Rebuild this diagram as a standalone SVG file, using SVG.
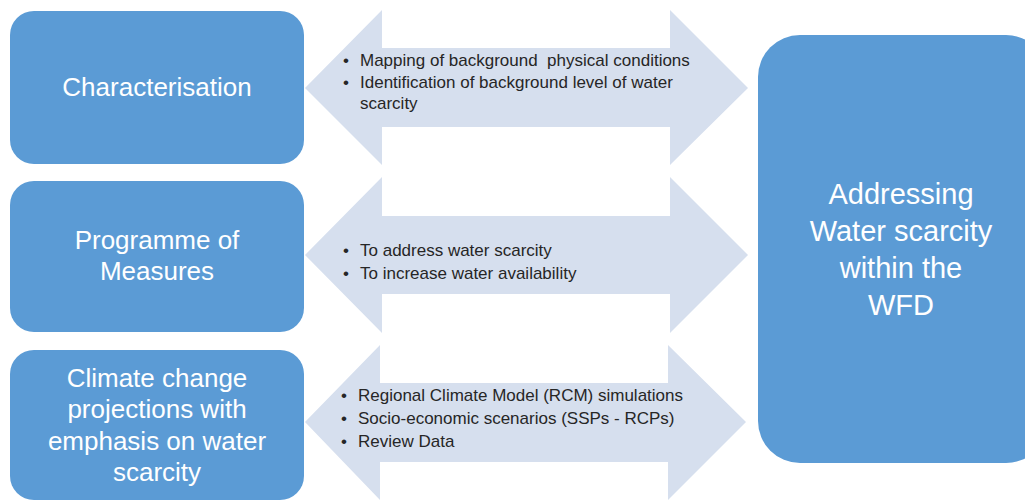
<svg xmlns="http://www.w3.org/2000/svg" width="1025" height="500" viewBox="0 0 1025 500">
<style>
.box{fill:#5B9BD5;}
.arr{fill:#D6DFEE;}
.bt{font-family:"Liberation Sans",Arial,sans-serif;fill:#FFFFFF;text-anchor:middle;font-size:26px;}
.big{font-size:29px;}
.at{font-family:"Liberation Sans",Arial,sans-serif;fill:#262626;font-size:17px;}
</style>
<rect width="1025" height="500" fill="#FFFFFF"/>
<g id="connectors">
<polygon class="arr" points="305,88 382,10 382,48 670,48 670,10 748,88 670,165 670,127 382,127 382,165"/>
<polygon class="arr" points="305,255 382,177 382,216 670,216 670,177 748,255 670,333 670,294 382,294 382,333"/>
<polygon class="arr" points="305,422 380,345 380,383 668,383 668,345 746,422 668,500 668,462 380,462 380,500"/>
</g>
<g id="arrow1-text" class="at">
<text x="343" y="66">•</text><text x="360" y="66" xml:space="preserve">Mapping of background  physical conditions</text>
<text x="343" y="88">•</text><text x="360" y="88">Identification of background level of water</text>
<text x="360" y="109">scarcity</text>
</g>
<g id="arrow2-text" class="at">
<text x="343" y="256">•</text><text x="360" y="256">To address water scarcity</text>
<text x="343" y="279">•</text><text x="360" y="279">To increase water availability</text>
</g>
<g id="arrow3-text" class="at">
<text x="341" y="401">•</text><text x="358" y="401">Regional Climate Model (RCM) simulations</text>
<text x="341" y="424">•</text><text x="358" y="424">Socio-economic scenarios (SSPs - RCPs)</text>
<text x="341" y="447">•</text><text x="358" y="447">Review Data</text>
</g>
<g id="characterisation">
<rect class="box" x="10" y="11" width="294" height="153" rx="24"/>
<text class="bt" x="157" y="96">Characterisation</text>
</g>
<g id="programme">
<rect class="box" x="10" y="181" width="294" height="151" rx="24"/>
<text class="bt" x="157" y="249">Programme of</text>
<text class="bt" x="157" y="280">Measures</text>
</g>
<g id="climate">
<rect class="box" x="10" y="350" width="294" height="150" rx="24"/>
<text class="bt" x="157" y="387">Climate change</text>
<text class="bt" x="157" y="418">projections with</text>
<text class="bt" x="157" y="450">emphasis on water</text>
<text class="bt" x="157" y="481">scarcity</text>
</g>
<g id="addressing">
<rect class="box" x="758" y="35" width="290" height="428" rx="42"/>
<text class="bt big" x="901" y="204">Addressing</text>
<text class="bt big" x="901" y="241">Water scarcity</text>
<text class="bt big" x="901" y="278">within the</text>
<text class="bt big" x="901" y="315">WFD</text>
</g>
</svg>
